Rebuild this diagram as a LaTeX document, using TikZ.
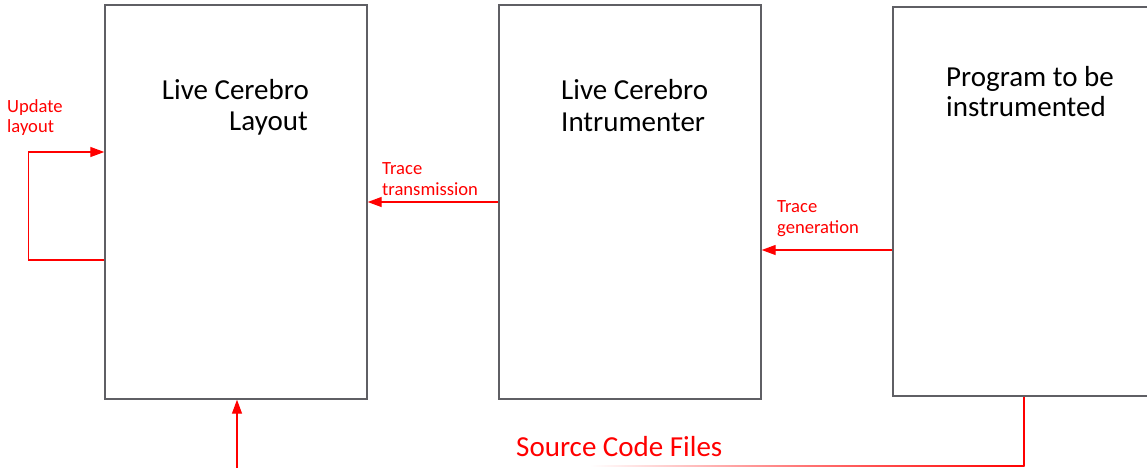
\documentclass[tikz,border=0pt]{standalone}
\usepackage{fontspec}
\setmainfont{Carlito}
\usetikzlibrary{arrows.meta}
\definecolor{boxgray}{RGB}{95,95,100}
\definecolor{myred}{RGB}{255,0,0}
\tikzset{
  boxnode/.style={draw=boxgray, line width=1.4pt, inner sep=0pt, fill=none},
  titletext/.style={inner sep=0pt, text=black, font=\fontsize{29}{33}\selectfont},
  labeltext/.style={inner sep=0pt, text=myred, font=\fontsize{18.6}{22}\selectfont},
  srctext/.style={inner sep=0pt, text=myred, font=\fontsize{29}{33}\selectfont},
  redline/.style={draw=myred, line width=1.3pt},
  redarrow/.style={redline, -{Triangle[length=14pt,width=10pt]}}
}
\begin{document}
\begin{tikzpicture}[x=1pt,y=-1pt]
\useasboundingbox (0,0) rectangle (1147,467);
\clip (0,0) rectangle (1147,467);
% boxes
\node[boxnode, minimum width=262pt, minimum height=394pt] (b1) at (236,202) {};
\node[boxnode, minimum width=262pt, minimum height=394pt] (b2) at (630,202) {};
\node[boxnode, minimum width=280pt, minimum height=389pt] (b3) at (1033,201.5) {};
% titles
\node[titletext, anchor=base east] (t1a) at (309,99) {Live Cerebro};
\node[titletext, anchor=base east] (t1b) at (308,130) {Layout};
\node[titletext, anchor=base west] (t2a) at (561,99) {Live Cerebro};
\node[titletext, anchor=base west] (t2b) at (561,131) {Intrumenter};
\node[titletext, anchor=base west] (t3a) at (946,86) {Program to be};
\node[titletext, anchor=base west] (t3b) at (946,116) {instrumented};
% labels
\node[labeltext, anchor=base west] (u1) at (7,112) {Update};
\node[labeltext, anchor=base west] (u2) at (7,132) {layout};
\node[labeltext, anchor=base west] (tt1) at (382,174) {Trace};
\node[labeltext, anchor=base west] (tt2) at (382,195) {transmission};
\node[labeltext, anchor=base west] (tg1) at (777,212) {Trace};
\node[labeltext, anchor=base west] (tg2) at (777,233) {generation};
\node[srctext, anchor=base west] (src) at (516,456) {Source Code Files};
% connectors
\draw[redarrow] ([yshift=-58pt]b1.west) -- ++(-76pt,0) |- ([yshift=50pt]b1.west);
\draw[redarrow] (b2.west) -- (b1.east);
\draw[redarrow] (b3.west |- 0,250) -- (b2.east |- 0,250);
\coordinate (srccorner) at (1024,466);
\coordinate (srcfade) at (590,466);
\coordinate (upstart) at (237,468);
\draw[redline] (b3.south -| srccorner) -- (srccorner);
\shade[left color=white, right color=myred, middle color=myred!55] ([yshift=0.65pt]srcfade) rectangle ([yshift=-0.65pt,xshift=0.65pt]srccorner);
\draw[redarrow] (upstart) -- (b1.south -| upstart);
\end{tikzpicture}
\end{document}
